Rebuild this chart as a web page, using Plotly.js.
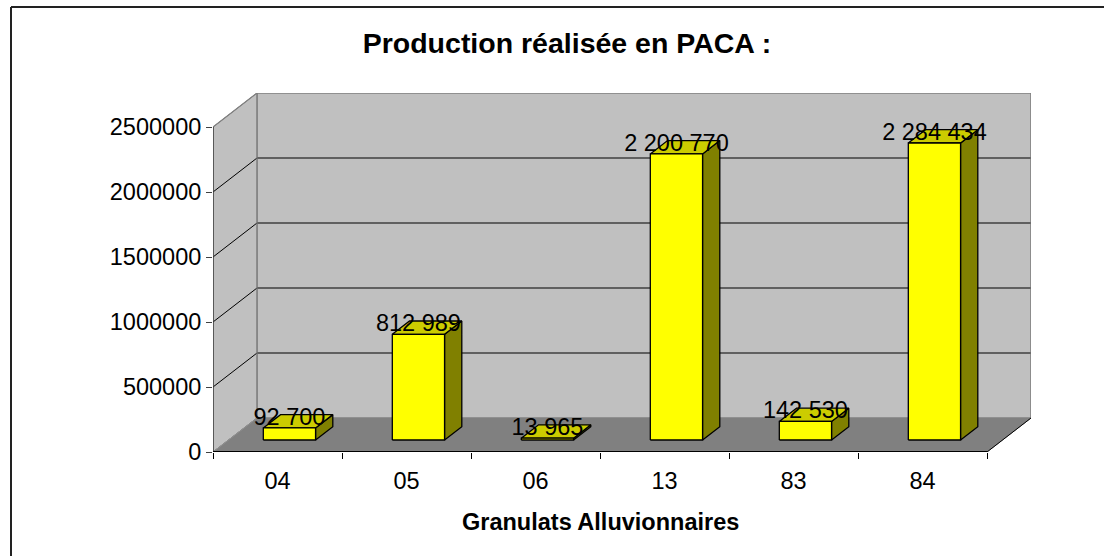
<!DOCTYPE html>
<html>
<head>
<meta charset="utf-8">
<script src="https://cdn.plot.ly/plotly-3.0.1.min.js"></script>
<style>
  html, body { margin: 0; padding: 0; background: #ffffff; }
  #chart { width: 1104px; height: 556px; }
</style>
</head>
<body>
<div id="chart"></div>
<script>
// ---- data ----
const categories = ['04', '05', '06', '13', '83', '84'];
const values = [92700, 812989, 13965, 2200770, 142530, 2284434];
const valueLabels = ['92 700', '812 989', '13 965', '2 200 770', '142 530', '2 284 434'];
const yTickVals = [0, 500000, 1000000, 1500000, 2000000, 2500000];
const yTickText = ['0', '500000', '1000000', '1500000', '2000000', '2500000'];
const chartTitle = 'Production réalisée en PACA :';
const xTitle = 'Granulats Alluvionnaires';

// ---- 3D projection / geometry (style constants) ----
const FONT = 'Liberation Sans, Arial, sans-serif';
const PLOT_W = 818, PLOT_H = 359;
const YMAX = 2500000;
const OX = 44 / 129;                 // depth offset in category units
const OY = 34 / 130 * 1000000;       // depth offset in value units
const XMIN = -0.5, XMAX = categories.length - 0.5;
const yTop = YMAX + OY;
const valPerPx = yTop / PLOT_H;
const F1 = 0.353, F2 = 0.745;        // bar front/back depth fractions
const XL = -0.11, XR = 0.295;        // bar front face extent around category

function poly(xs, ys, fill, lc, lw) {
  return {
    type: 'scatter', mode: 'lines', x: xs.concat([xs[0]]), y: ys.concat([ys[0]]),
    fill: 'toself', fillcolor: fill,
    line: { color: lc, width: lw }, hoverinfo: 'skip', showlegend: false
  };
}
function seg(xs, ys, lc, lw) {
  return {
    type: 'scatter', mode: 'lines', x: xs, y: ys,
    line: { color: lc, width: lw }, hoverinfo: 'skip', showlegend: false
  };
}

const traces = [];
// back wall
traces.push(poly([XMIN + OX, XMAX + OX, XMAX + OX, XMIN + OX], [OY, OY, YMAX + OY, YMAX + OY], '#C0C0C0', '#808080', 1));
// left wall
traces.push(poly([XMIN, XMIN + OX, XMIN + OX, XMIN], [0, OY, YMAX + OY, YMAX], '#C0C0C0', '#808080', 1));
// floor
traces.push(poly([XMIN, XMAX, XMAX + OX, XMIN + OX], [0, 0, OY, OY], '#808080', '#808080', 1));
// grid lines (black), skip 0 and top
yTickVals.forEach(function (t) {
  if (t === 0 || t === YMAX) return;
  traces.push(seg([XMIN, XMIN + OX, XMAX + OX], [t, t + OY, t + OY], '#000000', 1));
});
// wall edges re-drawn on top (gray)
traces.push(seg([XMIN, XMIN + OX, XMAX + OX, XMAX + OX], [YMAX, YMAX + OY, YMAX + OY, OY], '#808080', 1.2));
traces.push(seg([XMIN + OX, XMIN + OX], [OY, YMAX + OY], '#808080', 1.2));
traces.push(seg([XMIN, XMIN + OX], [0, OY], '#909090', 1));
// floor right edge (black) and axes
traces.push(seg([XMAX, XMAX + OX], [0, OY], '#000000', 1));
traces.push(seg([XMIN, XMIN], [0, YMAX], '#404040', 1.5));
traces.push(seg([XMIN, XMAX], [0, 0], '#000000', 2));

// bars
const dX = (F2 - F1) * OX, dY = (F2 - F1) * OY;
const base = F1 * OY;
values.forEach(function (v, i) {
  const x0 = i + XL, x1 = i + XR;
  const top = base + v;
  // side
  traces.push(poly([x1, x1 + dX, x1 + dX, x1], [base, base + dY, top + dY, top], '#808000', '#000000', 1.3));
  // top
  traces.push(poly([x0, x1, x1 + dX, x0 + dX], [top, top, top + dY, top + dY], '#CCCC00', '#000000', 1.3));
  // front
  traces.push(poly([x0, x1, x1, x0], [base, base, top, top], '#FFFF00', '#000000', 1.3));
});

// data labels
traces.push({
  type: 'scatter', mode: 'text',
  x: values.map(function (v, i) { return i + (XL + XR) / 2; }),
  y: values.map(function (v) { return base + v + 9 * valPerPx; }),
  text: valueLabels, textposition: 'middle center',
  textfont: { family: FONT, size: 23.5, color: '#000000' },
  cliponaxis: false, hoverinfo: 'skip', showlegend: false
});

const layout = {
  width: 1104, height: 556,
  margin: { l: 213, r: 73, t: 93, b: 104, pad: 0 },
  paper_bgcolor: '#ffffff', plot_bgcolor: 'rgba(0,0,0,0)',
  showlegend: false,
  font: { family: FONT, color: '#000000' },
  title: {
    text: chartTitle,
    font: { family: FONT, size: 28.5, weight: 'bold', color: '#000000' },
    xref: 'container', x: 567 / 1104, xanchor: 'center',
    yref: 'container', y: 1 - 43 / 556, yanchor: 'middle'
  },
  xaxis: {
    range: [XMIN, XMAX + OX], fixedrange: true,
    tickmode: 'array', tickvals: categories.map(function (c, i) { return i; }), ticktext: categories,
    ticks: '', ticklen: 6, ticklabelstandoff: 12, showgrid: false, zeroline: false, showline: false,
    tickfont: { family: FONT, size: 23.5, color: '#000000' },
    minor: {
      tickmode: 'array',
      tickvals: categories.map(function (c, i) { return i - 0.5; }).concat([XMAX]),
      ticks: 'outside', ticklen: 6, tickwidth: 1, tickcolor: '#000000', showgrid: false
    }
  },
  yaxis: {
    range: [0, yTop], fixedrange: true,
    tickmode: 'array', tickvals: yTickVals, ticktext: yTickText,
    ticks: 'outside', ticklen: 6, tickwidth: 1, tickcolor: '#404040',
    showgrid: false, zeroline: false, showline: false,
    tickfont: { family: FONT, size: 23.5, color: '#000000' }
  },
  annotations: [{
    text: '<b>' + xTitle + '</b>', showarrow: false,
    xref: 'x', x: (XMIN + XMAX) / 2, yref: 'paper', y: (452 - 522) / PLOT_H,
    xanchor: 'center', yanchor: 'middle',
    font: { family: FONT, size: 23.5, color: '#000000' }
  }],
  shapes: [
    { type: 'line', xref: 'paper', yref: 'paper', x0: (11 - 213) / PLOT_W, x1: (1104 - 213) / PLOT_W,
      y0: (452 - 7) / PLOT_H, y1: (452 - 7) / PLOT_H, line: { color: '#222222', width: 2 } },
    { type: 'line', xref: 'paper', yref: 'paper', x0: (11 - 213) / PLOT_W, x1: (11 - 213) / PLOT_W,
      y0: (452 - 7) / PLOT_H, y1: (452 - 560) / PLOT_H, line: { color: '#222222', width: 2 } }
  ]
};

Plotly.newPlot('chart', traces, layout, { staticPlot: true, displayModeBar: false });
</script>
</body>
</html>
